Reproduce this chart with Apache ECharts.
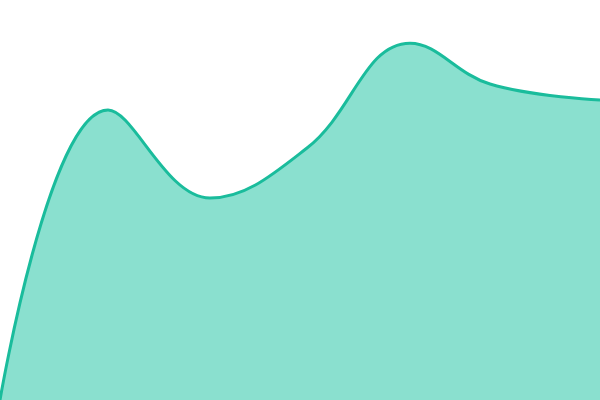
<!DOCTYPE html>
<html><head><meta charset="utf-8">
<script src="https://cdn.jsdelivr.net/npm/echarts@6/dist/echarts.min.js"></script>
<style>html,body{margin:0;padding:0;background:#fff}#c{width:600px;height:400px}</style>
</head><body><div id="c"></div>
<script>
const xValues = [0, 108, 210, 307, 410, 490, 600];
const values = [0, 72.5, 50.5, 63, 89.2, 79, 75];
const chart = echarts.init(document.getElementById('c'));
chart.setOption({
  animation: false,
  grid: {left: 0, right: 0, top: 0, bottom: 0},
  xAxis: {type: 'value', min: 0, max: 600, show: false},
  yAxis: {type: 'value', min: 0, max: 100, show: false},
  series: [{
    type: 'line', data: xValues.map((x, i) => [x, values[i]]), smooth: 0.4, symbol: 'none',
    lineStyle: {color: '#1abc9c', width: 3},
    areaStyle: {color: '#8ae0cf', opacity: 1}
  }]
});
</script></body></html>
